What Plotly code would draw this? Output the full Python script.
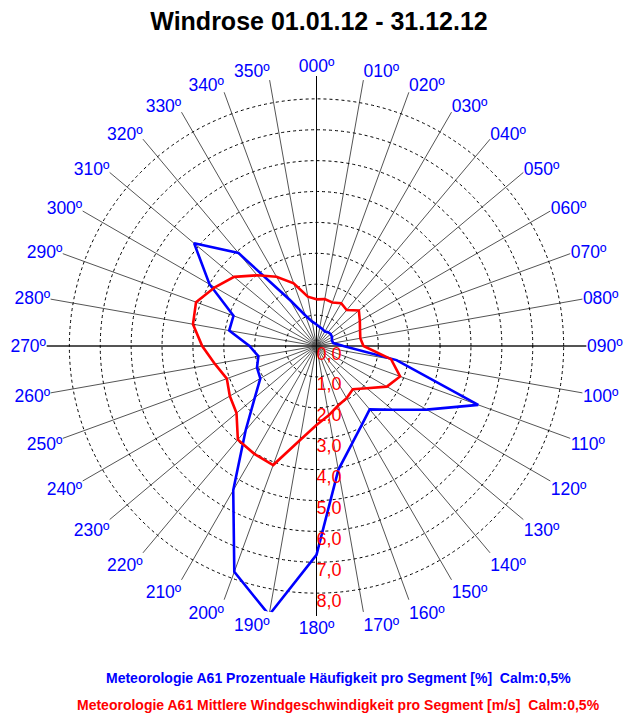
import plotly.graph_objects as go

# ---- data -------------------------------------------------------------
directions = [0, 10, 20, 30, 40, 50, 60, 70, 80, 90, 100, 110,
              120, 130, 140, 150, 160, 170, 180, 190, 200, 210, 220, 230,
              240, 250, 260, 270, 280, 290, 300, 310, 320, 330, 340, 350]

direction_labels = ["000º", "010º", "020º", "030º", "040º", "050º", "060º", "070º", "080º",
                    "090º", "100º", "110º", "120º", "130º", "140º", "150º", "160º", "170º",
                    "180º", "190º", "200º", "210º", "220º", "230º", "240º", "250º", "260º",
                    "270º", "280º", "290º", "300º", "310º", "320º", "330º", "340º", "350º"]

# Prozentuale Häufigkeit pro Segment [%]
frequency_pct = [0.70, 0.62, 0.58, 0.54, 0.58, 0.60, 0.58, 0.53, 0.55, 0.87, 2.63, 5.57,
                 4.12, 3.21, 2.68, 2.94, 3.36, 4.07, 6.76, 8.84, 7.78, 5.39, 3.57, 2.61,
                 2.10, 2.05, 1.91, 2.17, 2.87, 2.86, 4.00, 5.17, 3.93, 1.72, 1.05, 0.80]

# Mittlere Windgeschwindigkeit pro Segment [m/s]
mean_speed_ms = [1.51, 1.54, 1.50, 1.60, 1.52, 1.79, 1.62, 1.50, 1.44, 1.52, 2.45, 2.88,
                 2.63, 2.13, 1.83, 1.95, 2.05, 2.28, 2.56, 3.10, 4.10, 4.03, 3.96, 3.38,
                 3.24, 3.09, 3.34, 3.70, 4.06, 4.15, 3.80, 3.48, 2.99, 2.59, 2.16, 1.62]

radial_ticks = [0, 1, 2, 3, 4, 5, 6, 7, 8]
radial_tick_labels = ["0,0", "1,0", "2,0", "3,0", "4,0", "5,0", "6,0", "7,0", "8,0"]

title_text = "Windrose 01.01.12 - 31.12.12"
legend_freq = "Meteorologie A61 Prozentuale Häufigkeit pro Segment [%] \u00a0Calm:0,5%"
legend_speed = "Meteorologie A61 Mittlere Windgeschwindigkeit pro Segment [m/s] \u00a0Calm:0,5%"

# ---- layout constants (figure sits at an 8px page offset) --------------
W, H = 627, 712
CX, CY, RPX = 308.5, 338.0, 270.0
R_MAX = 8.74
FONT = "Liberation Sans, Arial, sans-serif"

fig = go.Figure()

# black cross (N-S, E-W)
fig.add_trace(go.Scatterpolar(
    r=[R_MAX, R_MAX, None, R_MAX, R_MAX],
    theta=[0, 180, None, 90, 270],
    mode="lines", line=dict(color="black", width=1),
    hoverinfo="skip", showlegend=False))

fig.add_trace(go.Scatterpolar(
    r=frequency_pct + frequency_pct[:1],
    theta=directions + directions[:1],
    mode="lines", line=dict(color="#0000FF", width=2.6),
    cliponaxis=False,
    name="Häufigkeit", showlegend=False))

fig.add_trace(go.Scatterpolar(
    r=mean_speed_ms + mean_speed_ms[:1],
    theta=directions + directions[:1],
    mode="lines", line=dict(color="#FF0000", width=2.6),
    cliponaxis=False,
    name="Windgeschwindigkeit", showlegend=False))

# radial tick labels along 180°
fig.add_trace(go.Scatterpolar(
    r=radial_ticks,
    theta=[180] * len(radial_ticks),
    mode="text", text=radial_tick_labels,
    textposition="bottom right",
    textfont=dict(color="#FF0000", size=18, family=FONT),
    cliponaxis=False,
    hoverinfo="skip", showlegend=False))

fig.update_layout(
    width=W, height=H,
    margin=dict(l=0, r=0, t=0, b=0),
    paper_bgcolor="white",
    plot_bgcolor="white",
    showlegend=False,
    title=dict(text="<b>" + title_text + "</b>", x=(319 - 8) / W, xanchor="center",
               y=1 - 13 / H, yanchor="middle", yref="container",
               font=dict(family=FONT, size=25, color="black")),
    polar=dict(
        domain=dict(x=[(CX - RPX) / W, (CX + RPX) / W],
                    y=[(H - CY - RPX) / H, (H - CY + RPX) / H]),
        bgcolor="white",
        angularaxis=dict(
            rotation=90, direction="clockwise",
            tickmode="array", tickvals=directions, ticktext=direction_labels,
            tickfont=dict(color="#0000FF", size=17.5, family=FONT),
            showline=False, ticks="",
            showgrid=True, gridcolor="#555555", gridwidth=1),
        radialaxis=dict(
            range=[0, R_MAX], tickmode="array", tickvals=radial_ticks[1:],
            showticklabels=False, showline=False, ticks="",
            showgrid=True, gridcolor="black", gridwidth=1, griddash="3px,3px"),
    ),
    annotations=[
        dict(text="<b>" + legend_freq + "</b>", x=(338 - 8) / W, y=1 - 670 / H,
             xref="paper", yref="paper", xanchor="center", yanchor="middle",
             showarrow=False, font=dict(family=FONT, size=14, color="#0000FF")),
        dict(text="<b>" + legend_speed + "</b>", x=(338 - 8) / W, y=1 - 697 / H,
             xref="paper", yref="paper", xanchor="center", yanchor="middle",
             showarrow=False, font=dict(family=FONT, size=14, color="#FF0000")),
    ],
)

fig.write_html("out.html")
